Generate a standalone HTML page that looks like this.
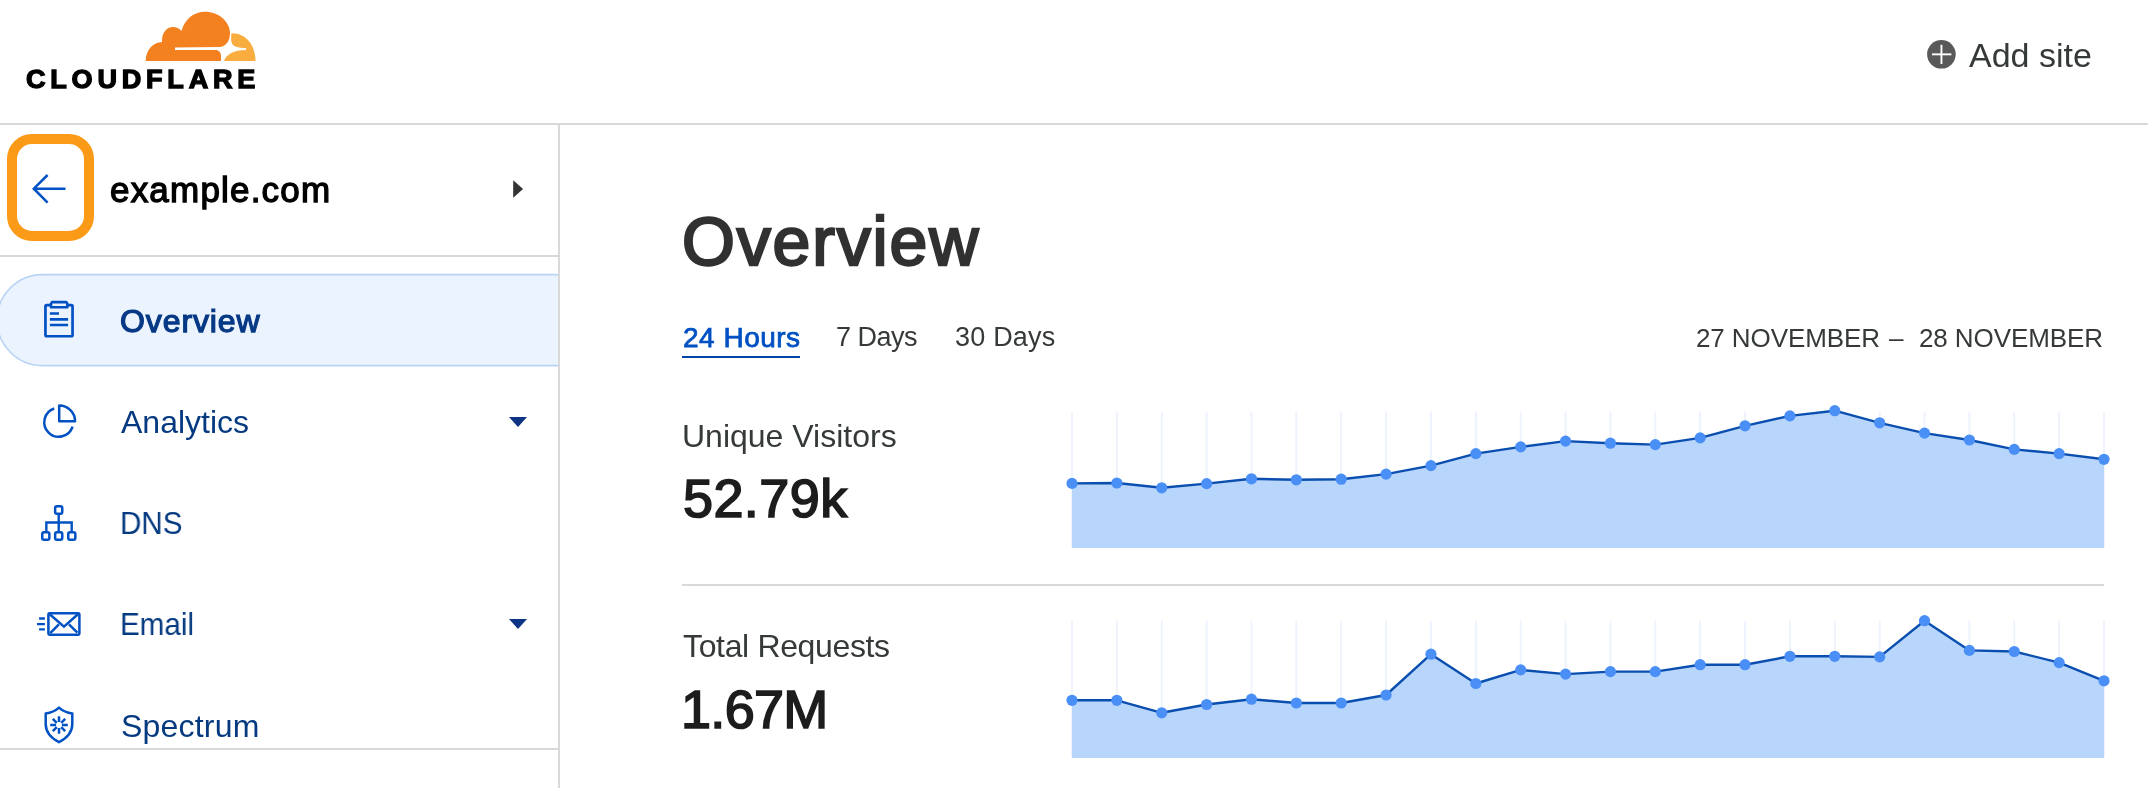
<!DOCTYPE html>
<html><head><meta charset="utf-8">
<style>
html,body{margin:0;padding:0;background:#fff;width:2148px;height:788px;overflow:hidden;position:relative}
.abs{position:absolute}
.t{position:absolute;white-space:nowrap;font-family:"Liberation Sans",sans-serif;-webkit-font-smoothing:antialiased;will-change:transform}
</style></head><body>
<svg class="abs" width="2148" height="788" viewBox="0 0 2148 788" style="left:0;top:0">
<!-- header border -->
<rect x="0" y="123" width="2148" height="2" fill="#d9d9d9"/>
<!-- sidebar border -->
<rect x="558" y="125" width="2" height="663" fill="#d9d9d9"/>
<!-- site header divider -->
<rect x="0" y="255" width="558" height="2" fill="#d9d9d9"/>
<!-- bottom sidebar divider -->
<rect x="0" y="748" width="558" height="2" fill="#d9d9d9"/>
<!-- main divider -->
<rect x="682" y="584" width="1422" height="2" fill="#d9d9d9"/>

<!-- Overview pill -->
<path d="M558,274.6 L42.5,274.6 A45.5,45.5 0 0 0 -3,320.1 A45.5,45.5 0 0 0 42.5,365.6 L558,365.6 Z" fill="#ebf3fe" stroke="none"/>
<path d="M558,274.6 L42.5,274.6 A45.5,45.5 0 0 0 -3,320.1 A45.5,45.5 0 0 0 42.5,365.6 L558,365.6" fill="none" stroke="#b9d3f6" stroke-width="1.6"/>
<!-- tab underline -->
<rect x="682" y="356" width="118" height="2" fill="#0045a6"/>
<!-- cloudflare logo -->
<path d="M145.7,61 C145.7,50 153,42.3 162,42 C161.5,33 166.5,27 173,27 C176.5,27 179.5,28.5 181.5,31 C184.5,19.5 193.5,11.7 205,11.7 C219,11.7 230,22 230,33 C230,40.5 226.5,46 220,47 L175,47.5 L175,50 L215.5,50 C218.8,50 221,52.5 221,55.5 L221,61 Z" fill="#f48120"/>
<path d="M232.5,33.3 C246,33.5 255.5,45 255.5,61 L224,61 C226,54.5 234,50 246,50 L246,48 C236,48 231.2,46 231.2,40 L231.2,34.5 Q231.2,33.3 232.5,33.3 Z" fill="#faad3f"/>
<!-- add site icon -->
<circle cx="1941.4" cy="54.3" r="14.3" fill="#595959"/>
<rect x="1932" y="53.4" width="19.4" height="1.9" fill="#fff"/>
<rect x="1940.5" y="44.8" width="1.9" height="19.2" fill="#fff"/>
<!-- orange focus box -->
<rect x="12" y="139" width="77" height="97" rx="20" ry="20" fill="none" stroke="#fb9a17" stroke-width="10"/>
<!-- back arrow -->
<path d="M47.6,175 L33.8,188.7 L47.6,202.6 M33.8,188.7 L65.5,188.7" fill="none" stroke="#0051c3" stroke-width="2.5"/>
<!-- right caret -->
<path d="M513.2,180.2 L523.1,188.9 L513.2,197.7 Z" fill="#333"/>
<!-- dropdown carets -->
<path d="M509,417 L527,417 L518,426.9 Z" fill="#0d3384"/>
<path d="M509,619 L527,619 L518,628.9 Z" fill="#0d3384"/>
<g fill="none" stroke="#0051c3" stroke-width="2.5">
<!-- clipboard -->
<rect x="45.45" y="305.15" width="27.1" height="31.1" rx="1.2" stroke-width="2.7"/>
<path d="M52,302.1 L66.2,302.1 L67.3,303.6 L67.3,307.2 L51,307.2 L51,303.6 Z" fill="#ebf3fe" stroke-width="2.6" stroke-linejoin="round"/>
<path d="M49.9,313.5 L59,313.5 M49.9,319.4 L68.1,319.4 M49.9,325 L68.1,325" stroke-width="2.6"/>
<!-- analytics -->
<path d="M54.2,408.5 A14.5,14.5 0 1 0 72.6,426.7"/>
<path d="M59.2,421.3 L59.2,405.5 A15.9,15.9 0 0 1 75.1,421.3 Z" stroke-linejoin="round"/>
<!-- dns -->
<rect x="55.15" y="506.25" width="7.1" height="7.6" rx="1.8"/>
<rect x="42.25" y="532.25" width="7.1" height="7.6" rx="1.8"/>
<rect x="55.15" y="532.25" width="7.1" height="7.6" rx="1.8"/>
<rect x="68.25" y="532.25" width="7.1" height="7.6" rx="1.8"/>
<path d="M58.7,515 L58.7,531 M46.35,531 L46.35,522.5 L71.7,522.5 L71.7,531" stroke-width="2.4"/>
<!-- email -->
<rect x="48.4" y="613.15" width="31" height="21.6" rx="1.2"/>
<path d="M49.7,614.2 L64,626.6 L77.9,614.2 M50.2,633.2 L58.9,624.3 M77.4,632.6 L69,624.3" stroke-width="2.5"/>
<path d="M39.1,618.5 L44.9,618.5 M37,624.1 L44.9,624.1 M39.1,629.4 L44.9,629.4" stroke-width="2.4"/>
<!-- shield -->
<path d="M59,707.6 C55.5,710.8 51,712.8 45.7,713.4 L45.7,724 C45.7,732 51,738 59,742.2 C67,738 72.3,732 72.3,724 L72.3,713.4 C67,712.8 62.5,710.8 59,707.6 Z" stroke-linejoin="round"/>
<path d="M59,716.2 L59,722.1 M59,727.9 L59,733.8 M50.2,725 L56.1,725 M61.9,725 L67.8,725 M52.8,718.8 L56.8,722.8 M61.2,727.2 L65.2,731.2 M65.2,718.8 L61.2,722.8 M56.8,727.2 L52.8,731.2" stroke-width="2.5"/>
</g>
<line x1="1072.00" y1="411.8" x2="1072.00" y2="548" stroke="#eef3fd" stroke-width="2"/>
<line x1="1116.87" y1="411.8" x2="1116.87" y2="548" stroke="#eef3fd" stroke-width="2"/>
<line x1="1161.74" y1="411.8" x2="1161.74" y2="548" stroke="#eef3fd" stroke-width="2"/>
<line x1="1206.61" y1="411.8" x2="1206.61" y2="548" stroke="#eef3fd" stroke-width="2"/>
<line x1="1251.48" y1="411.8" x2="1251.48" y2="548" stroke="#eef3fd" stroke-width="2"/>
<line x1="1296.35" y1="411.8" x2="1296.35" y2="548" stroke="#eef3fd" stroke-width="2"/>
<line x1="1341.22" y1="411.8" x2="1341.22" y2="548" stroke="#eef3fd" stroke-width="2"/>
<line x1="1386.09" y1="411.8" x2="1386.09" y2="548" stroke="#eef3fd" stroke-width="2"/>
<line x1="1430.96" y1="411.8" x2="1430.96" y2="548" stroke="#eef3fd" stroke-width="2"/>
<line x1="1475.83" y1="411.8" x2="1475.83" y2="548" stroke="#eef3fd" stroke-width="2"/>
<line x1="1520.70" y1="411.8" x2="1520.70" y2="548" stroke="#eef3fd" stroke-width="2"/>
<line x1="1565.57" y1="411.8" x2="1565.57" y2="548" stroke="#eef3fd" stroke-width="2"/>
<line x1="1610.43" y1="411.8" x2="1610.43" y2="548" stroke="#eef3fd" stroke-width="2"/>
<line x1="1655.30" y1="411.8" x2="1655.30" y2="548" stroke="#eef3fd" stroke-width="2"/>
<line x1="1700.17" y1="411.8" x2="1700.17" y2="548" stroke="#eef3fd" stroke-width="2"/>
<line x1="1745.04" y1="411.8" x2="1745.04" y2="548" stroke="#eef3fd" stroke-width="2"/>
<line x1="1789.91" y1="411.8" x2="1789.91" y2="548" stroke="#eef3fd" stroke-width="2"/>
<line x1="1834.78" y1="411.8" x2="1834.78" y2="548" stroke="#eef3fd" stroke-width="2"/>
<line x1="1879.65" y1="411.8" x2="1879.65" y2="548" stroke="#eef3fd" stroke-width="2"/>
<line x1="1924.52" y1="411.8" x2="1924.52" y2="548" stroke="#eef3fd" stroke-width="2"/>
<line x1="1969.39" y1="411.8" x2="1969.39" y2="548" stroke="#eef3fd" stroke-width="2"/>
<line x1="2014.26" y1="411.8" x2="2014.26" y2="548" stroke="#eef3fd" stroke-width="2"/>
<line x1="2059.13" y1="411.8" x2="2059.13" y2="548" stroke="#eef3fd" stroke-width="2"/>
<line x1="2104.00" y1="411.8" x2="2104.00" y2="548" stroke="#eef3fd" stroke-width="2"/>
<polygon points="1072.00,548 1072.00,483.40 1116.87,483.00 1161.74,487.80 1206.61,483.60 1251.48,478.80 1296.35,479.80 1341.22,479.20 1386.09,474.10 1430.96,465.60 1475.83,453.60 1520.70,446.90 1565.57,441.10 1610.43,443.20 1655.30,444.60 1700.17,437.90 1745.04,425.80 1789.91,415.90 1834.78,410.70 1879.65,422.80 1924.52,433.10 1969.39,440.00 2014.26,449.40 2059.13,453.60 2104.00,459.30 2104.00,548" fill="#b8d5fb"/>
<polyline points="1072.00,483.40 1116.87,483.00 1161.74,487.80 1206.61,483.60 1251.48,478.80 1296.35,479.80 1341.22,479.20 1386.09,474.10 1430.96,465.60 1475.83,453.60 1520.70,446.90 1565.57,441.10 1610.43,443.20 1655.30,444.60 1700.17,437.90 1745.04,425.80 1789.91,415.90 1834.78,410.70 1879.65,422.80 1924.52,433.10 1969.39,440.00 2014.26,449.40 2059.13,453.60 2104.00,459.30" fill="none" stroke="#0a4fb0" stroke-width="2.4" stroke-linejoin="round"/>
<circle cx="1072.00" cy="483.40" r="5.6" fill="#4a8ff6"/>
<circle cx="1116.87" cy="483.00" r="5.6" fill="#4a8ff6"/>
<circle cx="1161.74" cy="487.80" r="5.6" fill="#4a8ff6"/>
<circle cx="1206.61" cy="483.60" r="5.6" fill="#4a8ff6"/>
<circle cx="1251.48" cy="478.80" r="5.6" fill="#4a8ff6"/>
<circle cx="1296.35" cy="479.80" r="5.6" fill="#4a8ff6"/>
<circle cx="1341.22" cy="479.20" r="5.6" fill="#4a8ff6"/>
<circle cx="1386.09" cy="474.10" r="5.6" fill="#4a8ff6"/>
<circle cx="1430.96" cy="465.60" r="5.6" fill="#4a8ff6"/>
<circle cx="1475.83" cy="453.60" r="5.6" fill="#4a8ff6"/>
<circle cx="1520.70" cy="446.90" r="5.6" fill="#4a8ff6"/>
<circle cx="1565.57" cy="441.10" r="5.6" fill="#4a8ff6"/>
<circle cx="1610.43" cy="443.20" r="5.6" fill="#4a8ff6"/>
<circle cx="1655.30" cy="444.60" r="5.6" fill="#4a8ff6"/>
<circle cx="1700.17" cy="437.90" r="5.6" fill="#4a8ff6"/>
<circle cx="1745.04" cy="425.80" r="5.6" fill="#4a8ff6"/>
<circle cx="1789.91" cy="415.90" r="5.6" fill="#4a8ff6"/>
<circle cx="1834.78" cy="410.70" r="5.6" fill="#4a8ff6"/>
<circle cx="1879.65" cy="422.80" r="5.6" fill="#4a8ff6"/>
<circle cx="1924.52" cy="433.10" r="5.6" fill="#4a8ff6"/>
<circle cx="1969.39" cy="440.00" r="5.6" fill="#4a8ff6"/>
<circle cx="2014.26" cy="449.40" r="5.6" fill="#4a8ff6"/>
<circle cx="2059.13" cy="453.60" r="5.6" fill="#4a8ff6"/>
<circle cx="2104.00" cy="459.30" r="5.6" fill="#4a8ff6"/>
<line x1="1072.00" y1="620.8" x2="1072.00" y2="758" stroke="#eef3fd" stroke-width="2"/>
<line x1="1116.87" y1="620.8" x2="1116.87" y2="758" stroke="#eef3fd" stroke-width="2"/>
<line x1="1161.74" y1="620.8" x2="1161.74" y2="758" stroke="#eef3fd" stroke-width="2"/>
<line x1="1206.61" y1="620.8" x2="1206.61" y2="758" stroke="#eef3fd" stroke-width="2"/>
<line x1="1251.48" y1="620.8" x2="1251.48" y2="758" stroke="#eef3fd" stroke-width="2"/>
<line x1="1296.35" y1="620.8" x2="1296.35" y2="758" stroke="#eef3fd" stroke-width="2"/>
<line x1="1341.22" y1="620.8" x2="1341.22" y2="758" stroke="#eef3fd" stroke-width="2"/>
<line x1="1386.09" y1="620.8" x2="1386.09" y2="758" stroke="#eef3fd" stroke-width="2"/>
<line x1="1430.96" y1="620.8" x2="1430.96" y2="758" stroke="#eef3fd" stroke-width="2"/>
<line x1="1475.83" y1="620.8" x2="1475.83" y2="758" stroke="#eef3fd" stroke-width="2"/>
<line x1="1520.70" y1="620.8" x2="1520.70" y2="758" stroke="#eef3fd" stroke-width="2"/>
<line x1="1565.57" y1="620.8" x2="1565.57" y2="758" stroke="#eef3fd" stroke-width="2"/>
<line x1="1610.43" y1="620.8" x2="1610.43" y2="758" stroke="#eef3fd" stroke-width="2"/>
<line x1="1655.30" y1="620.8" x2="1655.30" y2="758" stroke="#eef3fd" stroke-width="2"/>
<line x1="1700.17" y1="620.8" x2="1700.17" y2="758" stroke="#eef3fd" stroke-width="2"/>
<line x1="1745.04" y1="620.8" x2="1745.04" y2="758" stroke="#eef3fd" stroke-width="2"/>
<line x1="1789.91" y1="620.8" x2="1789.91" y2="758" stroke="#eef3fd" stroke-width="2"/>
<line x1="1834.78" y1="620.8" x2="1834.78" y2="758" stroke="#eef3fd" stroke-width="2"/>
<line x1="1879.65" y1="620.8" x2="1879.65" y2="758" stroke="#eef3fd" stroke-width="2"/>
<line x1="1924.52" y1="620.8" x2="1924.52" y2="758" stroke="#eef3fd" stroke-width="2"/>
<line x1="1969.39" y1="620.8" x2="1969.39" y2="758" stroke="#eef3fd" stroke-width="2"/>
<line x1="2014.26" y1="620.8" x2="2014.26" y2="758" stroke="#eef3fd" stroke-width="2"/>
<line x1="2059.13" y1="620.8" x2="2059.13" y2="758" stroke="#eef3fd" stroke-width="2"/>
<line x1="2104.00" y1="620.8" x2="2104.00" y2="758" stroke="#eef3fd" stroke-width="2"/>
<polygon points="1072.00,758 1072.00,700.30 1116.87,700.30 1161.74,712.80 1206.61,704.50 1251.48,699.20 1296.35,703.00 1341.22,703.00 1386.09,695.00 1430.96,654.20 1475.83,683.50 1520.70,669.90 1565.57,674.10 1610.43,671.60 1655.30,671.60 1700.17,664.70 1745.04,664.70 1789.91,656.30 1834.78,656.30 1879.65,656.90 1924.52,620.70 1969.39,650.40 2014.26,651.50 2059.13,662.60 2104.00,680.80 2104.00,758" fill="#b8d5fb"/>
<polyline points="1072.00,700.30 1116.87,700.30 1161.74,712.80 1206.61,704.50 1251.48,699.20 1296.35,703.00 1341.22,703.00 1386.09,695.00 1430.96,654.20 1475.83,683.50 1520.70,669.90 1565.57,674.10 1610.43,671.60 1655.30,671.60 1700.17,664.70 1745.04,664.70 1789.91,656.30 1834.78,656.30 1879.65,656.90 1924.52,620.70 1969.39,650.40 2014.26,651.50 2059.13,662.60 2104.00,680.80" fill="none" stroke="#0a4fb0" stroke-width="2.4" stroke-linejoin="round"/>
<circle cx="1072.00" cy="700.30" r="5.6" fill="#4a8ff6"/>
<circle cx="1116.87" cy="700.30" r="5.6" fill="#4a8ff6"/>
<circle cx="1161.74" cy="712.80" r="5.6" fill="#4a8ff6"/>
<circle cx="1206.61" cy="704.50" r="5.6" fill="#4a8ff6"/>
<circle cx="1251.48" cy="699.20" r="5.6" fill="#4a8ff6"/>
<circle cx="1296.35" cy="703.00" r="5.6" fill="#4a8ff6"/>
<circle cx="1341.22" cy="703.00" r="5.6" fill="#4a8ff6"/>
<circle cx="1386.09" cy="695.00" r="5.6" fill="#4a8ff6"/>
<circle cx="1430.96" cy="654.20" r="5.6" fill="#4a8ff6"/>
<circle cx="1475.83" cy="683.50" r="5.6" fill="#4a8ff6"/>
<circle cx="1520.70" cy="669.90" r="5.6" fill="#4a8ff6"/>
<circle cx="1565.57" cy="674.10" r="5.6" fill="#4a8ff6"/>
<circle cx="1610.43" cy="671.60" r="5.6" fill="#4a8ff6"/>
<circle cx="1655.30" cy="671.60" r="5.6" fill="#4a8ff6"/>
<circle cx="1700.17" cy="664.70" r="5.6" fill="#4a8ff6"/>
<circle cx="1745.04" cy="664.70" r="5.6" fill="#4a8ff6"/>
<circle cx="1789.91" cy="656.30" r="5.6" fill="#4a8ff6"/>
<circle cx="1834.78" cy="656.30" r="5.6" fill="#4a8ff6"/>
<circle cx="1879.65" cy="656.90" r="5.6" fill="#4a8ff6"/>
<circle cx="1924.52" cy="620.70" r="5.6" fill="#4a8ff6"/>
<circle cx="1969.39" cy="650.40" r="5.6" fill="#4a8ff6"/>
<circle cx="2014.26" cy="651.50" r="5.6" fill="#4a8ff6"/>
<circle cx="2059.13" cy="662.60" r="5.6" fill="#4a8ff6"/>
<circle cx="2104.00" cy="680.80" r="5.6" fill="#4a8ff6"/>
</svg><div class="t" style="left:1969.00px;top:38.12px;font-size:34px;line-height:34px;font-weight:400;color:#36393a;letter-spacing:0px;">Add site</div><div class="t" style="left:109.50px;top:172.27px;font-size:35px;line-height:35px;font-weight:400;color:#000;letter-spacing:1.2px;-webkit-text-stroke:1.3px #000;">example.com</div><div class="t" style="left:120.10px;top:305.21px;font-size:32px;line-height:32px;font-weight:400;color:#063985;letter-spacing:0.9px;-webkit-text-stroke:1.25px #063985;">Overview</div><div class="t" style="left:120.50px;top:405.91px;font-size:32px;line-height:32px;font-weight:400;color:#063a80;letter-spacing:0px;">Analytics</div><div class="t" style="left:120.20px;top:506.81px;font-size:32px;line-height:32px;font-weight:400;color:#063a80;letter-spacing:0px;transform:scaleX(0.925);transform-origin:0 0;">DNS</div><div class="t" style="left:120.20px;top:607.51px;font-size:32px;line-height:32px;font-weight:400;color:#063a80;letter-spacing:0px;transform:scaleX(0.925);transform-origin:0 0;">Email</div><div class="t" style="left:120.50px;top:709.81px;font-size:32px;line-height:32px;font-weight:400;color:#063a80;letter-spacing:0.2px;">Spectrum</div><div class="t" style="left:681.50px;top:207.44px;font-size:68px;line-height:68px;font-weight:400;color:#313131;letter-spacing:1.85px;-webkit-text-stroke:2.4px #313131;">Overview</div><div class="t" style="left:682.80px;top:323.90px;font-size:28px;line-height:28px;font-weight:400;color:#0051c3;letter-spacing:0.5px;-webkit-text-stroke:0.75px #0051c3;">24 Hours</div><div class="t" style="left:836.00px;top:324.34px;font-size:27px;line-height:27px;font-weight:400;color:#36393a;letter-spacing:-0.5px;">7 Days</div><div class="t" style="left:955.00px;top:324.34px;font-size:27px;line-height:27px;font-weight:400;color:#36393a;letter-spacing:0.2px;">30 Days</div><div class="t" style="left:1696.00px;top:324.79px;font-size:26px;line-height:26px;font-weight:400;color:#36393a;letter-spacing:-0.1px;">27 NOVEMBER</div><div class="t" style="left:1888.50px;top:324.79px;font-size:26px;line-height:26px;font-weight:400;color:#36393a;letter-spacing:0px;">–</div><div class="t" style="left:1919.00px;top:324.79px;font-size:26px;line-height:26px;font-weight:400;color:#36393a;letter-spacing:-0.1px;">28 NOVEMBER</div><div class="t" style="left:681.70px;top:419.81px;font-size:32px;line-height:32px;font-weight:400;color:#36393a;letter-spacing:0px;">Unique Visitors</div><div class="t" style="left:683.00px;top:470.89px;font-size:54px;line-height:54px;font-weight:400;color:#1d1d1d;letter-spacing:0.4px;-webkit-text-stroke:1.7px #1d1d1d;">52.79k</div><div class="t" style="left:683.00px;top:629.71px;font-size:32px;line-height:32px;font-weight:400;color:#36393a;letter-spacing:-0.35px;">Total Requests</div><div class="t" style="left:681.20px;top:681.69px;font-size:54px;line-height:54px;font-weight:400;color:#1d1d1d;letter-spacing:-0.7px;-webkit-text-stroke:1.7px #1d1d1d;">1.67M</div><div class="t" style="left:25.60px;top:66.49px;font-size:26px;line-height:26px;font-weight:700;color:#000;letter-spacing:4.6px;-webkit-text-stroke:1.3px #000;transform:scaleX(1.04);transform-origin:0 0;">CLOUDFLARE</div>
</body></html>
